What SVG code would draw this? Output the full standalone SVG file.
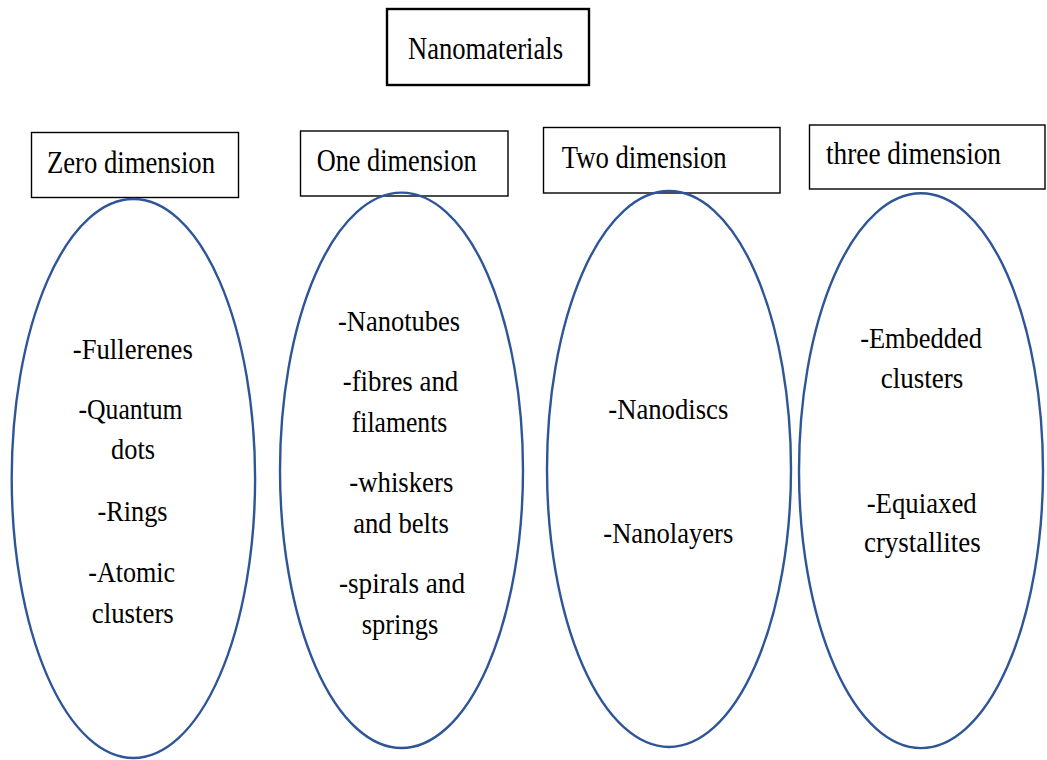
<svg xmlns="http://www.w3.org/2000/svg" width="1047" height="760" viewBox="0 0 1047 760">
  <style>
    .bg { fill: #ffffff; }
    .box { fill: #ffffff; stroke: #000000; stroke-width: 1.4; }
    .box-main { fill: #ffffff; stroke: #000000; stroke-width: 2.4; }
    .ell { fill: none; stroke: #2E5597; stroke-width: 2.4; }
    .hdr { font-size: 32px; fill: #000000; }
    .item { font-size: 29px; fill: #000000; text-anchor: middle; }
  </style>
  <rect class="bg" x="0" y="0" width="1047" height="760"/>

  <g font-family="'Liberation Serif', serif">
  <g id="nanomaterials">
    <rect class="box-main" x="387" y="9" width="202" height="76"/>
    <text class="hdr" x="408" y="59" font-size="33" textLength="155" lengthAdjust="spacingAndGlyphs">Nanomaterials</text>
  </g>

  <g id="zero-dimension">
    <rect class="box" x="31.5" y="132.5" width="207" height="65"/>
    <text class="hdr" x="47" y="172.5" textLength="168" lengthAdjust="spacingAndGlyphs">Zero dimension</text>
  </g>
  <g id="one-dimension">
    <rect class="box" x="300.5" y="131" width="207.5" height="65"/>
    <text class="hdr" x="316.7" y="170.7" textLength="160" lengthAdjust="spacingAndGlyphs">One dimension</text>
  </g>
  <g id="two-dimension">
    <rect class="box" x="543.5" y="127.5" width="236.5" height="65.5"/>
    <text class="hdr" x="561.7" y="167.7" textLength="165" lengthAdjust="spacingAndGlyphs">Two dimension</text>
  </g>
  <g id="three-dimension">
    <rect class="box" x="809.5" y="125" width="235.5" height="64"/>
    <text class="hdr" x="826" y="164.3" textLength="175" lengthAdjust="spacingAndGlyphs">three dimension</text>
  </g>

  <g id="zero-examples">
    <ellipse class="ell" cx="133.4" cy="478.5" rx="121.7" ry="279.5"/>
    <text class="item" x="132.8" y="359" textLength="120" lengthAdjust="spacingAndGlyphs">-Fullerenes</text>
    <text class="item" x="130.5" y="419" textLength="104" lengthAdjust="spacingAndGlyphs">-Quantum</text>
    <text class="item" x="133" y="459" textLength="44" lengthAdjust="spacingAndGlyphs">dots</text>
    <text class="item" x="132.5" y="521" textLength="70" lengthAdjust="spacingAndGlyphs">-Rings</text>
    <text class="item" x="131.7" y="581.5" textLength="87" lengthAdjust="spacingAndGlyphs">-Atomic</text>
    <text class="item" x="132.8" y="622.5" textLength="82" lengthAdjust="spacingAndGlyphs">clusters</text>
  </g>

  <g id="one-examples">
    <ellipse class="ell" cx="401.5" cy="470.3" rx="121.5" ry="277.7"/>
    <text class="item" x="399" y="331" textLength="122" lengthAdjust="spacingAndGlyphs">-Nanotubes</text>
    <text class="item" x="400.5" y="391" textLength="115.6" lengthAdjust="spacingAndGlyphs">-fibres and</text>
    <text class="item" x="399.5" y="431.5" textLength="95.6" lengthAdjust="spacingAndGlyphs">filaments</text>
    <text class="item" x="401.3" y="492" textLength="104" lengthAdjust="spacingAndGlyphs">-whiskers</text>
    <text class="item" x="401" y="532.5" textLength="95.7" lengthAdjust="spacingAndGlyphs">and belts</text>
    <text class="item" x="402" y="593" textLength="126" lengthAdjust="spacingAndGlyphs">-spirals and</text>
    <text class="item" x="400" y="634" textLength="76.6" lengthAdjust="spacingAndGlyphs">springs</text>
  </g>

  <g id="two-examples">
    <ellipse class="ell" cx="669" cy="469" rx="122" ry="278"/>
    <text class="item" x="668.3" y="419" textLength="120" lengthAdjust="spacingAndGlyphs">-Nanodiscs</text>
    <text class="item" x="668.3" y="543" textLength="130" lengthAdjust="spacingAndGlyphs">-Nanolayers</text>
  </g>

  <g id="three-examples">
    <ellipse class="ell" cx="921" cy="470.7" rx="122" ry="277.4"/>
    <text class="item" x="921" y="348" textLength="121.7" lengthAdjust="spacingAndGlyphs">-Embedded</text>
    <text class="item" x="922" y="388" textLength="82.6" lengthAdjust="spacingAndGlyphs">clusters</text>
    <text class="item" x="921.7" y="512.5" textLength="110" lengthAdjust="spacingAndGlyphs">-Equiaxed</text>
    <text class="item" x="922.3" y="551.5" textLength="116.7" lengthAdjust="spacingAndGlyphs">crystallites</text>
  </g>
  </g>

  <g id="connectors"/>
</svg>
